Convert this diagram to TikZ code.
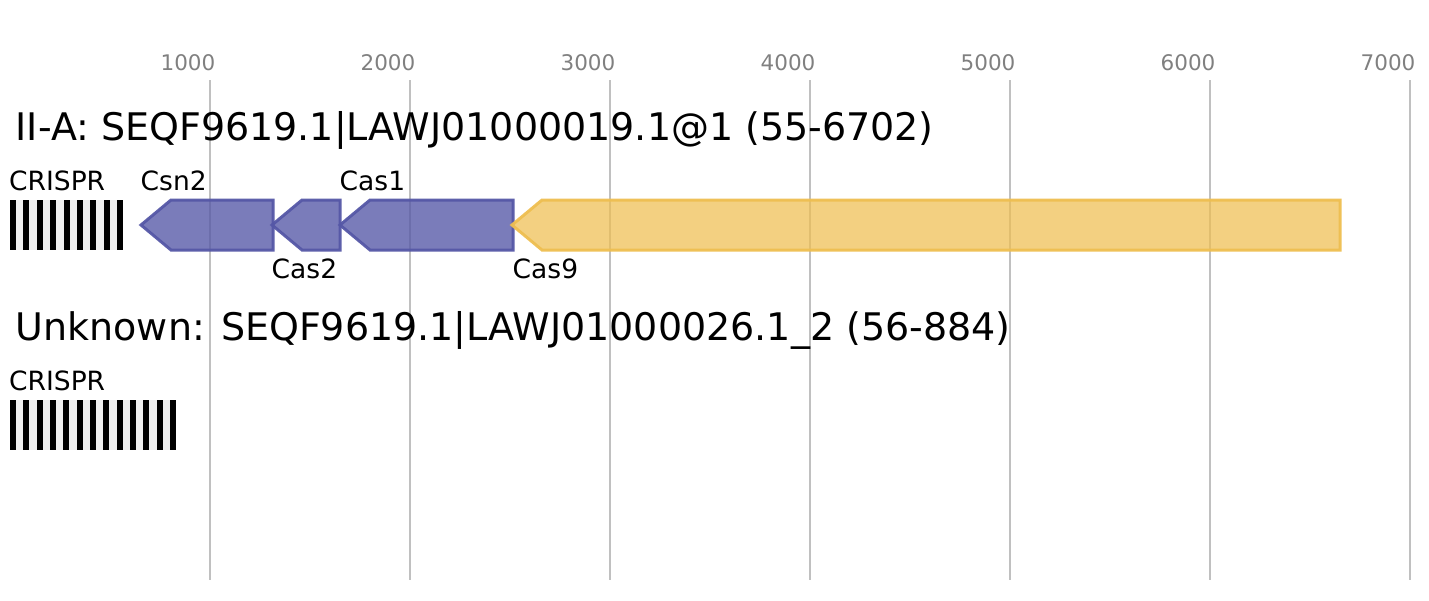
\documentclass[tikz,border=0pt]{standalone}
\usepackage{fontspec}
\setmainfont{DejaVu Sans}
\definecolor{gridgray}{RGB}{192,192,192}
\definecolor{tickgray}{RGB}{128,128,128}
\definecolor{casblue}{RGB}{85,87,166}
\definecolor{casgold}{RGB}{238,190,80}
\definecolor{spacergray}{RGB}{240,240,240}
\tikzset{
  gridline/.style={draw=gridgray, line width=2pt},
  ticklabel/.style={text=tickgray, font=\fontsize{21.5}{26}\selectfont, anchor=base, inner sep=0pt},
  locustitle/.style={font=\fontsize{38}{45}\selectfont, anchor=base west, inner sep=0pt},
  genelabel/.style={font=\fontsize{26.5}{31}\selectfont, anchor=base west, inner sep=0pt},
  bluegene/.style={draw=casblue, fill=casblue, fill opacity=0.78, draw opacity=0.95, line width=3pt, line join=miter},
  goldgene/.style={draw=casgold, fill=casgold, fill opacity=0.72, draw opacity=0.95, line width=3pt, line join=miter},
  repeatbar/.style={fill=black},
  spacerbg/.style={fill=spacergray},
}
\begin{document}
\begin{tikzpicture}[x=1pt, y=-1pt]
\useasboundingbox (0,0) rectangle (1429,600);
% grid and scale
\foreach \k/\lab in {0/1000,1/2000,2/3000,3/4000,4/5000,5/6000,6/7000} {
  \draw[gridline] (210+\k*200,80) -- (210+\k*200,580);
  \node[ticklabel] (tick\lab) at (188+\k*200,70) {\lab};
}
% locus 1
\node[locustitle] (title1) at (15.5,140) {II-A: SEQF9619.1|LAWJ01000019.1@1 (55-6702)};
\fill[spacerbg] (10,200) rectangle (123,250);
\foreach \i in {0,...,8} {
  \fill[repeatbar] (10+\i*13.375,200) rectangle (16+\i*13.375,250);
}
\node[genelabel] (crispr1) at (9,190) {CRISPR};
\draw[bluegene] (141,225) -- (171,200) -- (273,200) -- (273,250) -- (171,250) -- cycle;
\node[genelabel] (csn2) at (140.5,190) {Csn2};
\draw[bluegene] (272,225) -- (302,200) -- (340,200) -- (340,250) -- (302,250) -- cycle;
\node[genelabel] (cas2) at (271.5,278) {Cas2};
\draw[bluegene] (340,225) -- (370,200) -- (513,200) -- (513,250) -- (370,250) -- cycle;
\node[genelabel] (cas1) at (339.5,190) {Cas1};
\draw[goldgene] (512,225) -- (542,200) -- (1340,200) -- (1340,250) -- (542,250) -- cycle;
\node[genelabel] (cas9) at (512.5,278) {Cas9};
% locus 2
\node[locustitle] (title2) at (15.5,340) {Unknown: SEQF9619.1|LAWJ01000026.1\_2 (56-884)};
\fill[spacerbg] (10,400) rectangle (176,450);
\foreach \i in {0,...,12} {
  \fill[repeatbar] (10+\i*13.333,400) rectangle (16+\i*13.333,450);
}
\node[genelabel] (crispr2) at (9,390) {CRISPR};
\end{tikzpicture}
\end{document}
